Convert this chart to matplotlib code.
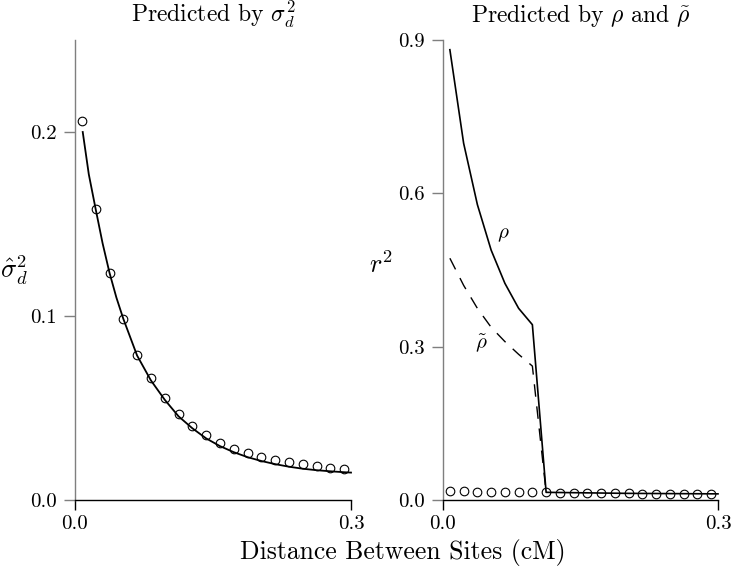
"""Two-panel LD decay figure: sigma_d^2 fit (left), rho / rho-tilde (right)."""
import matplotlib; matplotlib.use("Agg")
import matplotlib.pyplot as plt

plt.rcParams["font.family"] = "serif"
plt.rcParams["font.serif"] = ["cmr10", "DejaVu Serif"]
plt.rcParams["mathtext.fontset"] = "cm"
plt.rcParams["axes.formatter.use_mathtext"] = True
plt.rcParams["font.size"] = 15

# distance grid for the simulated points (cM)
dist = [0.0075, 0.0225, 0.0375, 0.0525, 0.0675, 0.0825, 0.0975, 0.1125, 0.1275, 0.1425,
        0.1575, 0.1725, 0.1875, 0.2025, 0.2175, 0.2325, 0.2475, 0.2625, 0.2775, 0.2925]

# left panel: observed sigma_d^2 hat and predicted curve
sigma_obs = [0.2058, 0.1583, 0.1232, 0.0985, 0.0790, 0.0661, 0.0553, 0.0466, 0.0402, 0.0353,
             0.0311, 0.0279, 0.0257, 0.0235, 0.0217, 0.0205, 0.0194, 0.0183, 0.0174, 0.0168]
curve_x = [0.0084, 0.0150, 0.0225, 0.0300, 0.0375, 0.0450, 0.0525, 0.0675, 0.0825, 0.0975,
           0.1125, 0.1275, 0.1425, 0.1575, 0.1725, 0.1875, 0.2025, 0.2175, 0.2325, 0.2475,
           0.2625, 0.2775, 0.2925, 0.3000]
curve_y = [0.2000, 0.1770, 0.1580, 0.1395, 0.1235, 0.1100, 0.0985, 0.0785, 0.0650, 0.0545,
           0.0455, 0.0390, 0.0335, 0.0293, 0.0260, 0.0233, 0.0212, 0.0195, 0.0181, 0.0170,
           0.0162, 0.0156, 0.0151, 0.0149]

# right panel: observed r^2, and predictions from rho and rho-tilde
r2_obs = [0.018, 0.017, 0.016, 0.016, 0.015, 0.015, 0.015, 0.015, 0.014, 0.014,
          0.013, 0.013, 0.013, 0.013, 0.012, 0.012, 0.012, 0.012, 0.012, 0.012]
rho_x = [0.0075, 0.0225, 0.0375, 0.0525, 0.0675, 0.0825, 0.0975, 0.1125, 0.2000, 0.3000]
rho_y = [0.881, 0.698, 0.578, 0.489, 0.424, 0.375, 0.343, 0.015, 0.013, 0.012]
rhot_x = [0.0075, 0.0225, 0.0375, 0.0525, 0.0675, 0.0825, 0.0975, 0.1125]
rhot_y = [0.473, 0.420, 0.375, 0.338, 0.310, 0.285, 0.262, 0.015]

GRAY = "#7f7f7f"

fig = plt.figure(figsize=(7.33, 5.69), dpi=100)
axL = fig.add_axes([75 / 733, 69 / 569, 276 / 733, 460 / 569])
axR = fig.add_axes([443 / 733, 69 / 569, 275 / 733, 460 / 569])


def style(ax, ymax, yticks):
    ax.set_xlim(0, 0.3)
    ax.set_ylim(0, ymax)
    for s in ("top", "right"):
        ax.spines[s].set_visible(False)
    ax.spines["left"].set_color(GRAY)
    ax.spines["left"].set_linewidth(1.0)
    ax.spines["bottom"].set_linewidth(1.0)
    ax.set_xticks([0, 0.3], ["0.0", "0.3"])
    ax.set_yticks(yticks, [f"{v:.1f}" for v in yticks])
    ax.tick_params(axis="x", length=7, width=1.0, pad=4)
    ax.tick_params(axis="y", length=8, width=1.0, color=GRAY, pad=5)
    ax.patch.set_visible(False)


style(axL, 0.25, [0.0, 0.1, 0.2])
axL.plot(curve_x, curve_y, color="black", lw=1.3, clip_on=False)
axL.plot(dist, sigma_obs, ls="none", marker="o", ms=6.2, mfc="none", mec="black", mew=0.8,
         clip_on=False)
axL.set_title(r"Predicted by $\sigma_d^2$", pad=13, fontsize=17)

style(axR, 0.9, [0.0, 0.3, 0.6, 0.9])
axR.plot(rho_x, rho_y, color="black", lw=1.2, clip_on=False)
axR.plot(rhot_x, rhot_y, color="black", lw=1.0, ls=(0, (9, 7)), clip_on=False)
axR.plot(dist, r2_obs, ls="none", marker="o", ms=6.2, mfc="none", mec="black", mew=0.8,
         clip_on=False)
axR.text(0.0658, 0.518, r"$\rho$", ha="center", va="center", fontsize=15)
axR.text(0.0422, 0.306, r"$\tilde{\rho}$", ha="center", va="center", fontsize=15)
axR.set_title(r"Predicted by $\rho$ and $\tilde{\rho}$", pad=13, fontsize=17)

fig.text(14 / 733, 1 - 270 / 569, r"$\hat{\sigma}_d^2$", ha="center", va="center", fontsize=19)
fig.text(381 / 733, 1 - 265 / 569, r"$r^2$", ha="center", va="center", fontsize=19)
fig.text(240 / 733, 1 - 552 / 569, "Distance Between Sites (cM)", ha="left", va="center",
         fontsize=18.5)

fig.savefig("out.png", dpi=100)
